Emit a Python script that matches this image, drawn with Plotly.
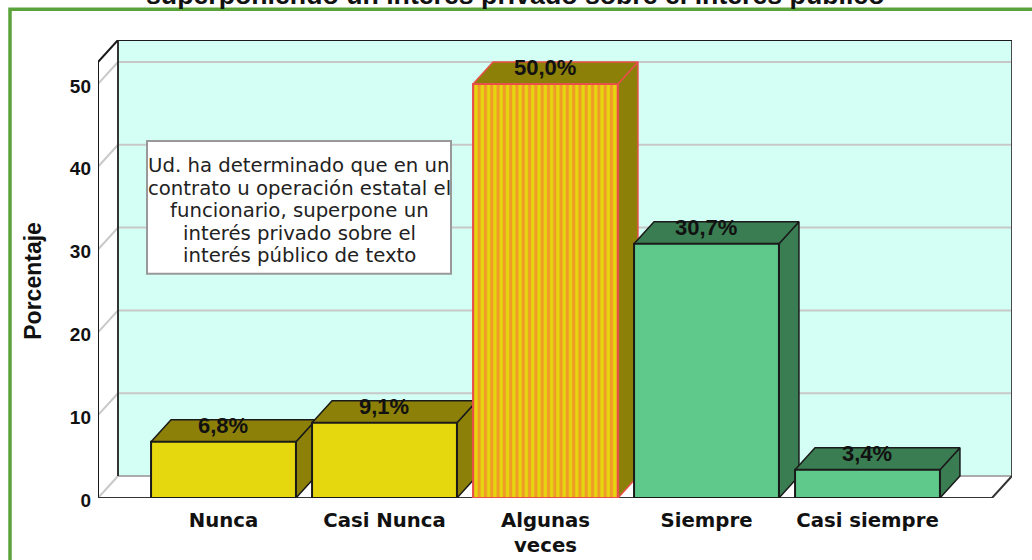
import plotly.graph_objects as go

categories = ["Nunca", "Casi Nunca", "Algunas<br>veces", "Siempre", "Casi siempre"]
percentages = [6.8, 9.1, 50.0, 30.7, 3.4]
bar_labels = ["6,8%", "9,1%", "50,0%", "30,7%", "3,4%"]
y_ticks = [0, 10, 20, 30, 40, 50]
striped_bar = 2

box_lines = [
    "Ud. ha determinado que en un",
    "contrato u operación estatal el",
    "funcionario, superpone un",
    "interés privado sobre el",
    "interés público de texto",
]
title_text = "superponiendo un interés privado sobre el interés público"

front_colors = ["#e5d80e", "#e5d80e", "#e5d80e", "#5fc98b", "#5fc98b"]
shade_colors = ["#8c8008", "#8c8008", "#8c8008", "#3a7d52", "#3a7d52"]
edge_colors = ["#1a1a1a", "#1a1a1a", "#e8504a", "#1a1a1a", "#1a1a1a"]

# pixel frame of the plot, everything else hangs off these
PX_LEFT, PX_RIGHT, PX_TOP, PX_BOTTOM = 98, 1012, 40, 498.5
PX_PER_CAT = 161
PX_PER_UNIT = 8.29
FIRST_CAT_PX = 223.5
BAR_WIDTH = 0.9
DX = 20 / PX_PER_CAT
DY = 22 / PX_PER_UNIT

x_range = [(PX_LEFT - FIRST_CAT_PX) / PX_PER_CAT, (PX_RIGHT - FIRST_CAT_PX) / PX_PER_CAT]
y_range = [0, (PX_BOTTOM - PX_TOP) / PX_PER_UNIT]
x_front_right = x_range[1] - DX
y_back_top = y_range[1]
y_front_top = y_back_top - DY


def paper_x(px):
    return (px - PX_LEFT) / (PX_RIGHT - PX_LEFT)


def paper_y(py):
    return (PX_BOTTOM - py) / (PX_BOTTOM - PX_TOP)


def poly(xs, ys, fill, line, width=1.5):
    return go.Scatter(
        x=xs, y=ys, mode="lines", fill="toself", fillcolor=fill,
        line=dict(color=line, width=width), hoverinfo="skip", showlegend=False,
    )


def seg(xs, ys, color, width=2):
    return go.Scatter(
        x=xs, y=ys, mode="lines", line=dict(color=color, width=width),
        hoverinfo="skip", showlegend=False,
    )


def center_text(text, px, py, **kwargs):
    fig.add_annotation(
        x=paper_x(px), y=paper_y(py), xref="paper", yref="paper", text=text,
        xanchor="center", yanchor="middle", showarrow=False, **kwargs,
    )


fig = go.Figure()

# back wall, left wall, floor
fig.add_trace(poly(
    [x_range[0] + DX, x_range[1], x_range[1], x_range[0] + DX, x_range[0] + DX],
    [DY, DY, y_back_top, y_back_top, DY], "#d4fff5", "rgba(0,0,0,0)", 0))
for t in y_ticks:
    fig.add_trace(seg([x_range[0] + DX, x_range[1]], [t + DY, t + DY], "#c8c8c8"))
    fig.add_trace(seg([x_range[0], x_range[0] + DX], [t, t + DY], "#c8c8c8"))
fig.add_trace(seg([x_range[0] + DX, x_range[1]], [DY, DY], "#ababab"))
fig.add_trace(seg([x_range[1], x_range[1]], [DY, y_back_top], "#4a4a4a"))
fig.add_trace(seg([x_range[0] + DX, x_range[1]], [y_back_top, y_back_top], "#1a1a1a"))
fig.add_trace(seg([x_range[0] + DX, x_range[0] + DX], [DY, y_back_top], "#333333"))
fig.add_trace(seg([x_range[0], x_range[0], x_range[0] + DX],
                  [0, y_front_top, y_back_top], "#1a1a1a"))
fig.add_trace(seg([x_range[0], x_front_right, x_range[1]], [0, 0, DY], "#333333"))

# bar side and top faces
for i, v in enumerate(percentages):
    left = i - BAR_WIDTH / 2
    right = i + BAR_WIDTH / 2
    fig.add_trace(poly(
        [right, right + DX, right + DX, right, right],
        [0, DY, v + DY, v, 0], shade_colors[i], edge_colors[i]))
    fig.add_trace(poly(
        [left, left + DX, right + DX, right, left],
        [v, v + DY, v + DY, v, v], shade_colors[i], edge_colors[i]))

# front faces sit on the overlay axes so they cover the neighbouring side faces
plain = [i for i in range(len(categories)) if i != striped_bar]
fig.add_trace(go.Bar(
    x=plain,
    y=[percentages[i] for i in plain],
    width=BAR_WIDTH,
    xaxis="x2",
    yaxis="y2",
    showlegend=False,
    marker=dict(
        color=[front_colors[i] for i in plain],
        line=dict(color=[edge_colors[i] for i in plain], width=2),
    ),
))
fig.add_trace(go.Bar(
    x=[striped_bar],
    y=[percentages[striped_bar]],
    width=BAR_WIDTH,
    xaxis="x2",
    yaxis="y2",
    showlegend=False,
    marker=dict(
        color=front_colors[striped_bar],
        line=dict(color=edge_colors[striped_bar], width=2),
        pattern=dict(
            shape="|",
            fillmode="replace",
            fgcolor="#f09a28",
            bgcolor=front_colors[striped_bar],
            fgopacity=1,
            size=6.3,
            solidity=0.5,
        ),
    ),
))

for i, v in enumerate(percentages):
    fig.add_annotation(
        x=i, y=v, xref="x2", yref="y2", text=f"<b>{bar_labels[i]}</b>", showarrow=False,
        xshift=-1, yshift=16, font=dict(family="Liberation Sans", size=22, color="#111111"),
    )

# text box over the wall
fig.add_shape(
    type="rect", xref="paper", yref="paper",
    x0=paper_x(147), x1=paper_x(451), y0=paper_y(274), y1=paper_y(141),
    fillcolor="white", line=dict(color="#999999", width=2), layer="above",
)
for line, py in zip(box_lines, [166, 188.5, 211, 233.5, 256]):
    center_text(line, 299, py, font=dict(family="DejaVu Sans", size=19.7, color="#222222"))

center_text(f"<b>{title_text}</b>", 515, -5,
            font=dict(family="Liberation Sans", size=26.7, color="#111111"))
center_text("<b>Porcentaje</b>", 33, 281, textangle=-90,
            font=dict(family="Liberation Sans", size=23, color="#111111"))

# green frame, runs off the right and bottom of the page
fig.add_shape(
    type="rect", xref="paper", yref="paper",
    x0=paper_x(10), x1=paper_x(1050), y0=paper_y(580), y1=paper_y(9.2),
    line=dict(color="#5aa33b", width=3.5), layer="above",
)

fig.update_layout(
    width=1032,
    height=560,
    barmode="overlay",
    margin=dict(l=PX_LEFT, r=1032 - PX_RIGHT, t=PX_TOP, b=560 - PX_BOTTOM, autoexpand=False),
    paper_bgcolor="white",
    plot_bgcolor="white",
    showlegend=False,
    xaxis=dict(
        range=x_range, tickmode="array", tickvals=list(range(len(categories))),
        ticktext=[f"<b>{c}</b>".replace("<br>", "</b><br><b>") for c in categories],
        showgrid=False, zeroline=False, showline=False, ticks="", tickangle=0,
        tickfont=dict(family="DejaVu Sans", size=19.7, color="#111111"),
        ticklabelstandoff=8,
    ),
    yaxis=dict(
        range=y_range, tickmode="array", tickvals=y_ticks,
        ticktext=[f"<b>{t}</b>" for t in y_ticks],
        showgrid=False, zeroline=False, showline=False, ticks="",
        tickfont=dict(family="Liberation Sans", size=19, color="#111111"),
        ticklabelstandoff=6, ticklabelshift=2,
    ),
    xaxis2=dict(range=x_range, overlaying="x", visible=False),
    yaxis2=dict(range=y_range, overlaying="y", visible=False),
)

# the page's default body margin would push everything 8px off
fig.write_html(
    "out.html",
    config={"displayModeBar": False},
    post_script="document.body.style.margin='0';",
)
